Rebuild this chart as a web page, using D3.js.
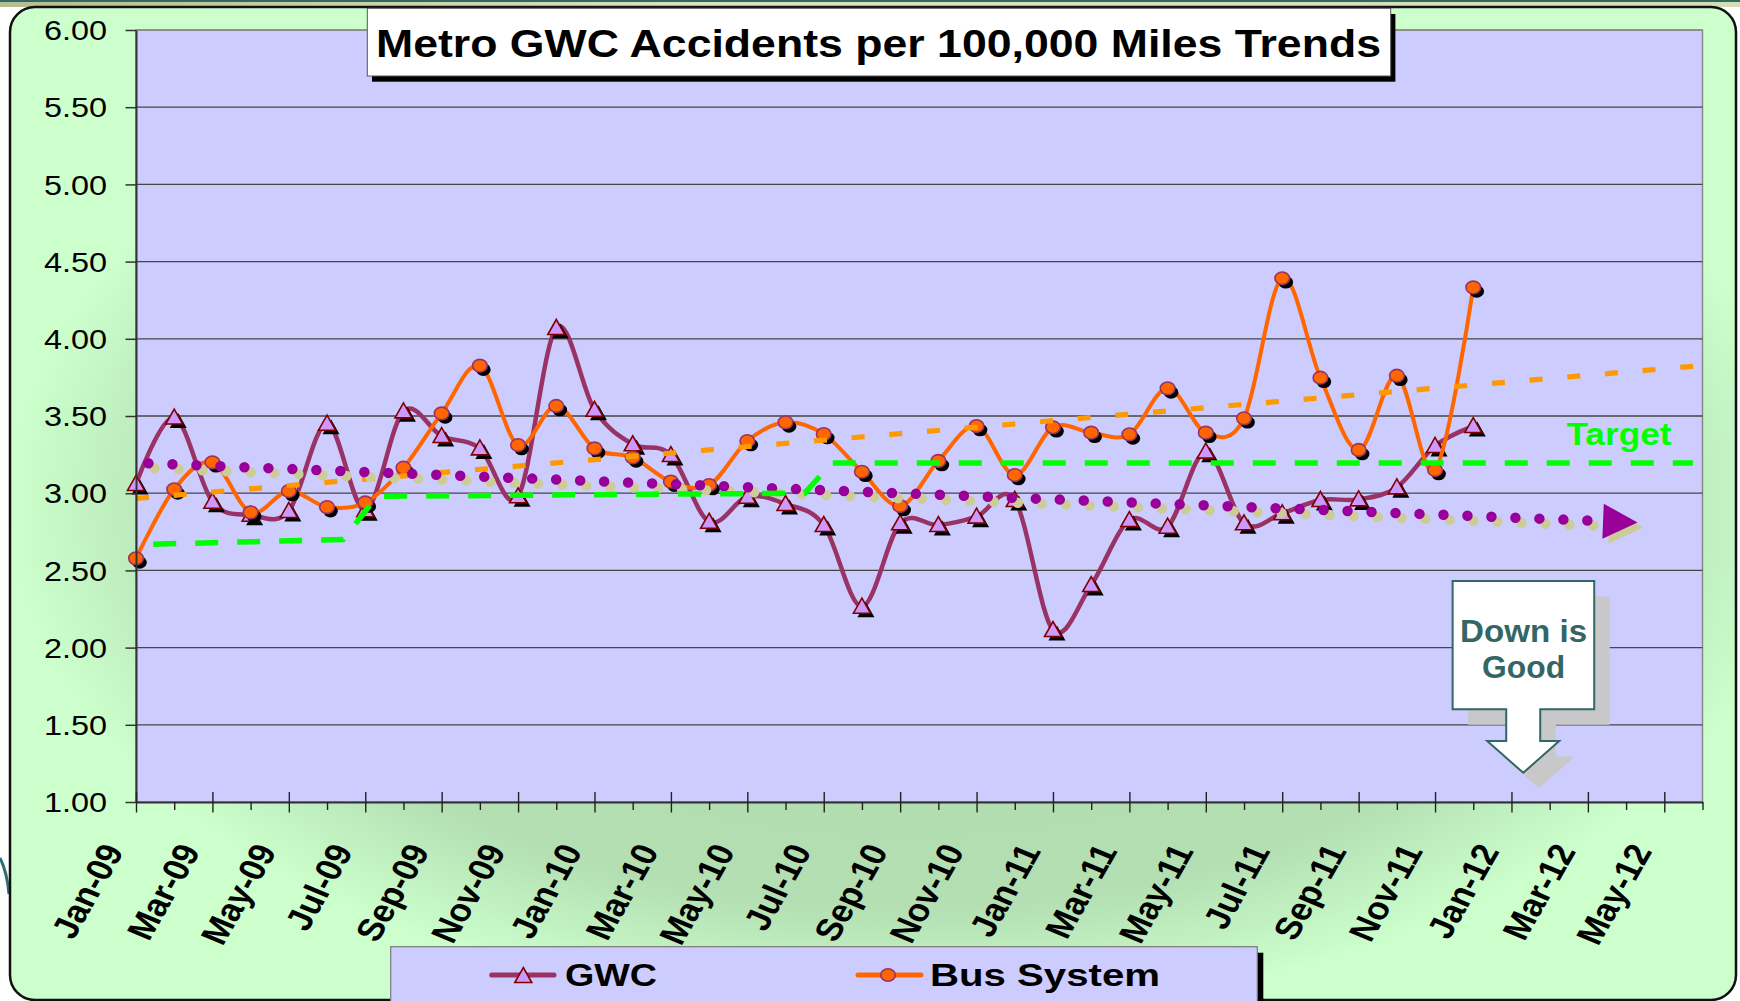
<!DOCTYPE html>
<html><head><meta charset="utf-8">
<script src="https://cdn.jsdelivr.net/npm/d3@7"></script>
<style>
html,body{margin:0;padding:0;background:#fff;}
svg{display:block;}
text{font-family:Arial,"Liberation Sans",sans-serif;}
</style></head><body>
<svg id="chart" width="1740" height="1001"></svg>
<script>
// ---------------- data ----------------
const months = ["Jan-09","Feb-09","Mar-09","Apr-09","May-09","Jun-09","Jul-09","Aug-09","Sep-09","Oct-09","Nov-09","Dec-09",
  "Jan-10","Feb-10","Mar-10","Apr-10","May-10","Jun-10","Jul-10","Aug-10","Sep-10","Oct-10","Nov-10","Dec-10",
  "Jan-11","Feb-11","Mar-11","Apr-11","May-11","Jun-11","Jul-11","Aug-11","Sep-11","Oct-11","Nov-11","Dec-11",
  "Jan-12","Feb-12","Mar-12","Apr-12","May-12","Jun-12"];
const gwc = [3.06,3.49,2.945,2.86,2.885,3.45,2.89,3.53,3.37,3.29,2.98,4.07,
  3.54,3.317,3.247,2.815,2.977,2.93,2.794,2.265,2.805,2.794,2.848,2.956,
  2.114,2.405,2.826,2.783,3.269,2.805,2.87,2.956,2.96,3.038,3.306,3.435];
const bus = [2.578,3.025,3.20,2.876,3.014,2.91,2.94,3.165,3.517,3.826,3.312,3.565,
  3.29,3.232,3.075,3.053,3.338,3.459,3.383,3.139,2.917,3.209,3.435,3.118,
  3.427,3.392,3.381,3.679,3.392,3.485,4.392,3.748,3.280,3.761,3.150,4.333];
const targetMonth = [0.45, 5.42, 6.31, 17.5, 18.21, 40.75];
const targetValue = [2.67, 2.70, 2.98, 3.00, 3.195, 3.195];
const yTicks = [1.0,1.5,2.0,2.5,3.0,3.5,4.0,4.5,5.0,5.5,6.0];
const seriesNames = ["GWC","Bus System"];
const titleText = "Metro GWC Accidents per 100,000 Miles Trends";
const targetLabel = "Target";
const calloutLines = ["Down is","Good"];
const gwcTrendEnd = 39.3;   // forecast end (month index)
const busTrendEnd = 41;

// ---------------- setup ----------------
const svg = d3.select("#chart");
const defs = svg.append("defs");
const rg = defs.append("radialGradient").attr("id","bgGrad").attr("cx","52%").attr("cy","50%").attr("r","52%");
rg.append("stop").attr("offset","0%").attr("stop-color","#ACD8AC");
rg.append("stop").attr("offset","78%").attr("stop-color","#B3DFB3");
rg.append("stop").attr("offset","100%").attr("stop-color","#CCFFCC");
const tg = defs.append("linearGradient").attr("id","topGrad").attr("x1","0").attr("x2","1");
tg.append("stop").attr("offset","0%").attr("stop-color","#B9BC92");
tg.append("stop").attr("offset","40%").attr("stop-color","#DDE2BE");
tg.append("stop").attr("offset","100%").attr("stop-color","#D5DDB6");

const x = d3.scaleLinear().domain([0, months.length - 1]).range([136, 1702.5]);
const y = d3.scaleLinear().domain([1, 6]).range([802, 30]);

// page decorations
svg.append("rect").attr("x",0).attr("y",0).attr("width",1740).attr("height",7).attr("fill","url(#topGrad)");
svg.append("rect").attr("x",0).attr("y",0).attr("width",1740).attr("height",2).attr("fill","#2E6A60");
svg.append("path").attr("d","M0,858 Q7,872 9,894").attr("stroke","#2F6F6F").attr("stroke-width",3).attr("fill","none");

// chart area
svg.append("rect").attr("x",10).attr("y",7).attr("width",1726).attr("height",993).attr("rx",25)
  .attr("fill","url(#bgGrad)").attr("stroke","#111").attr("stroke-width",2.5);

// plot area
svg.append("rect").attr("x",x(0)).attr("y",y(6)).attr("width",x(41)-x(0)).attr("height",y(1)-y(6))
  .attr("fill","#CCCCFF").attr("stroke","#8a8a8a").attr("stroke-width",1.5);

// gridlines
svg.append("g").selectAll("line").data(yTicks.filter(d => d > 1)).join("line")
  .attr("x1",x(0)).attr("x2",x(41)).attr("y1",d=>y(d)).attr("y2",d=>y(d))
  .attr("stroke",d => d === 6 ? "#8a8a8a" : "#464646").attr("stroke-width",1.3);

// ---------------- series ----------------
const curve = d3.curveCatmullRom.alpha(0);
const line = d3.line().x((d,i)=>x(i)).y(d=>y(d)).curve(curve);
const triPath = "M0,-8.5 L8.5,6.5 L-8.5,6.5 Z";

function drawSeries(vals, color, width, kind){
  const g = svg.append("g");
  g.append("path").datum(vals).attr("d",line).attr("fill","none").attr("stroke",color)
    .attr("stroke-width",width).attr("stroke-linejoin","round").attr("stroke-linecap","round");
  const m = g.selectAll("g.mk").data(vals).join("g").attr("class","mk")
    .attr("transform",(d,i)=>`translate(${x(i)},${y(d)})`);
  if (kind === "tri") {
    m.append("path").attr("d",triPath).attr("transform","translate(4,4)").attr("fill","#000");
    m.append("path").attr("d",triPath).attr("fill","#CC99FF").attr("stroke","#800000").attr("stroke-width",1.6);
  } else {
    m.append("ellipse").attr("cx",3.5).attr("cy",4).attr("rx",7.3).attr("ry",6.3).attr("fill","#000");
    m.append("ellipse").attr("rx",7.3).attr("ry",6.3).attr("fill","#FF6600").attr("stroke","#993366").attr("stroke-width",1.6);
  }
}
drawSeries(gwc, "#993366", 4.5, "tri");
drawSeries(bus, "#FF6600", 4, "circ");

// ---------------- trendlines ----------------
function linreg(vals){
  const mx = d3.mean(vals,(d,i)=>i), my = d3.mean(vals);
  let sxy = 0, sxx = 0;
  vals.forEach((v,i)=>{ sxy += (i-mx)*(v-my); sxx += (i-mx)*(i-mx); });
  const b = sxy/sxx; return {a: my - b*mx, b};
}
const busFit = linreg(bus), gwcFit = linreg(gwc);

// Bus trend (orange dashed)
svg.append("path").datum([0, busTrendEnd]).attr("d", d3.line().x(d=>x(d)).y(d=>y(busFit.a+busFit.b*d)))
  .attr("fill","none").attr("stroke","#FF9900").attr("stroke-width",5.2).attr("stroke-dasharray","13 24.8");

// GWC trend (purple dotted with arrow + tan shadow)
const p0 = [x(0), y(gwcFit.a)];
const p1 = [x(gwcTrendEnd), y(gwcFit.a + gwcFit.b*gwcTrendEnd)];
const len = Math.hypot(p1[0]-p0[0], p1[1]-p0[1]);
const ux = (p1[0]-p0[0])/len, uy = (p1[1]-p0[1])/len;
const arrowL = 34.5, arrowH = 17.5;
const base = [p1[0]-arrowL*ux, p1[1]-arrowL*uy];
const arrowPts = [p1, [base[0]-arrowH*uy, base[1]+arrowH*ux], [base[0]+arrowH*uy, base[1]-arrowH*ux]];
function drawGwcTrend(color, dx, dy){
  const g = svg.append("g").attr("transform",`translate(${dx},${dy})`);
  g.append("path").attr("d", d3.line()([p0, base])).attr("fill","none").attr("stroke",color)
    .attr("stroke-width",10.5).attr("stroke-linecap","round").attr("stroke-dasharray","0 24").attr("stroke-dashoffset",-12.5);
  g.append("path").attr("d", d3.line()(arrowPts)+"Z").attr("fill",color);
}
drawGwcTrend("#CCCC99", 6, 5);
drawGwcTrend("#990099", 0, 0);

// Target (green dashed)
svg.append("path").datum(targetMonth.map((m,i)=>[m,targetValue[i]]))
  .attr("d", d3.line().x(d=>x(d[0])).y(d=>y(d[1])))
  .attr("fill","none").attr("stroke","#00FF00").attr("stroke-width",5.5).attr("stroke-dasharray","23 19");
svg.append("text").attr("x",x(37.44)).attr("y",y(3.312)).text(targetLabel)
  .attr("font-size",32).attr("font-weight","bold").attr("fill","#00FF00")
  .attr("textLength",105).attr("lengthAdjust","spacingAndGlyphs");

// ---------------- axes ----------------
const yAxis = svg.append("g").attr("transform",`translate(${x(0)},0)`)
  .call(d3.axisLeft(y).tickValues(yTicks).tickFormat(d3.format(".2f")).tickSize(10.5).tickSizeOuter(0));
yAxis.select(".domain").attr("stroke","#333").attr("stroke-width",2);
yAxis.selectAll(".tick line").attr("stroke","#333").attr("stroke-width",1.5);
yAxis.selectAll(".tick text").attr("x",0).attr("dy","0.36em")
  .attr("transform","translate(-29,0) scale(1.2,1)").attr("font-size",27).attr("fill","#000")
  .attr("font-family","Arial, 'Liberation Sans', sans-serif");

const xAxis = svg.append("g").attr("transform",`translate(0,${y(1)})`)
  .call(d3.axisBottom(x).tickValues(d3.range(months.length)).tickFormat(i => i % 2 === 0 ? months[i] : "").tickSizeOuter(0));
xAxis.select(".domain").attr("stroke","#333").attr("stroke-width",2.2);
xAxis.selectAll(".tick line").attr("stroke","#222").attr("stroke-width",1.4)
  .attr("y1",(d)=> d % 2 === 0 ? -10 : 0).attr("y2",(d)=> d % 2 === 0 ? 10.5 : 8);
xAxis.selectAll(".tick text").attr("x",0).attr("y",0).attr("dy",0)
  .attr("transform","translate(-12,49) scale(1.17,1) rotate(-64)")
  .style("text-anchor","end").attr("font-size",31.5).attr("font-weight","bold").attr("fill","#000")
  .attr("font-family","Arial, 'Liberation Sans', sans-serif");

// ---------------- callout ----------------
const cx0 = x(34.46), cy0 = y(2.431);
const bw = 141.6, bh = 128.3;
const calloutD = `M0,0 H${bw} V${bh} H87.6 V160 H106.6 L70.6,191.7 L34.6,160 H53.6 V${bh} H0 Z`;
svg.append("path").attr("d",calloutD).attr("transform",`translate(${cx0+15.5},${cy0+15.5})`).attr("fill","#C8C8C8");
svg.append("path").attr("d",calloutD).attr("transform",`translate(${cx0},${cy0})`)
  .attr("fill","#fff").attr("stroke","#336666").attr("stroke-width",2);
const cl = svg.append("g").attr("transform",`translate(${cx0+71},${cy0})`);
cl.append("text").attr("x",0).attr("y",60.7).text(calloutLines[0]).attr("text-anchor","middle")
  .attr("font-size",32).attr("font-weight","bold").attr("fill","#336666")
  .attr("textLength",127).attr("lengthAdjust","spacingAndGlyphs");
cl.append("text").attr("x",0).attr("y",97.3).text(calloutLines[1]).attr("text-anchor","middle")
  .attr("font-size",32).attr("font-weight","bold").attr("fill","#336666")
  .attr("textLength",83).attr("lengthAdjust","spacingAndGlyphs");

// ---------------- title ----------------
svg.append("rect").attr("x",372).attr("y",14).attr("width",1023.4).attr("height",67.7).attr("fill","#000");
svg.append("rect").attr("x",367.3).attr("y",8.3).attr("width",1023.4).attr("height",67.7)
  .attr("fill","#fff").attr("stroke","#555").attr("stroke-width",1);
svg.append("text").attr("x",376).attr("y",56.7).text(titleText).attr("font-size",38).attr("font-weight","bold")
  .attr("fill","#000").attr("textLength",1005).attr("lengthAdjust","spacingAndGlyphs");

// ---------------- legend ----------------
const lg = svg.append("g");
lg.append("rect").attr("x",396.7).attr("y",952.7).attr("width",866.6).attr("height",70).attr("fill","#000");
lg.append("rect").attr("x",390.7).attr("y",946.7).attr("width",866.6).attr("height",70)
  .attr("fill","#CCCCFF").attr("stroke","#7a7a7a").attr("stroke-width",1.2);
const legendItems = [
  {name: seriesNames[0], x0: 491.7, x1: 554, mx: 523.3, tx: 565, tl: 92, color:"#993366", kind:"tri"},
  {name: seriesNames[1], x0: 858, x1: 921, mx: 888, tx: 930, tl: 230, color:"#FF6600", kind:"circ"}];
legendItems.forEach(it => {
  lg.append("line").attr("x1",it.x0).attr("x2",it.x1).attr("y1",975).attr("y2",975)
    .attr("stroke",it.color).attr("stroke-width",5).attr("stroke-linecap","round");
  if (it.kind === "tri") lg.append("path").attr("d",triPath).attr("transform",`translate(${it.mx},976)`)
    .attr("fill","#CC99FF").attr("stroke","#800000").attr("stroke-width",1.6);
  else lg.append("ellipse").attr("cx",it.mx).attr("cy",975).attr("rx",7.3).attr("ry",6.3)
    .attr("fill","#FF6600").attr("stroke","#993366").attr("stroke-width",1.6);
  lg.append("text").attr("x",it.tx).attr("y",986).text(it.name).attr("font-size",32).attr("font-weight","bold")
    .attr("fill","#000").attr("textLength",it.tl).attr("lengthAdjust","spacingAndGlyphs");
});
</script>
</body></html>
